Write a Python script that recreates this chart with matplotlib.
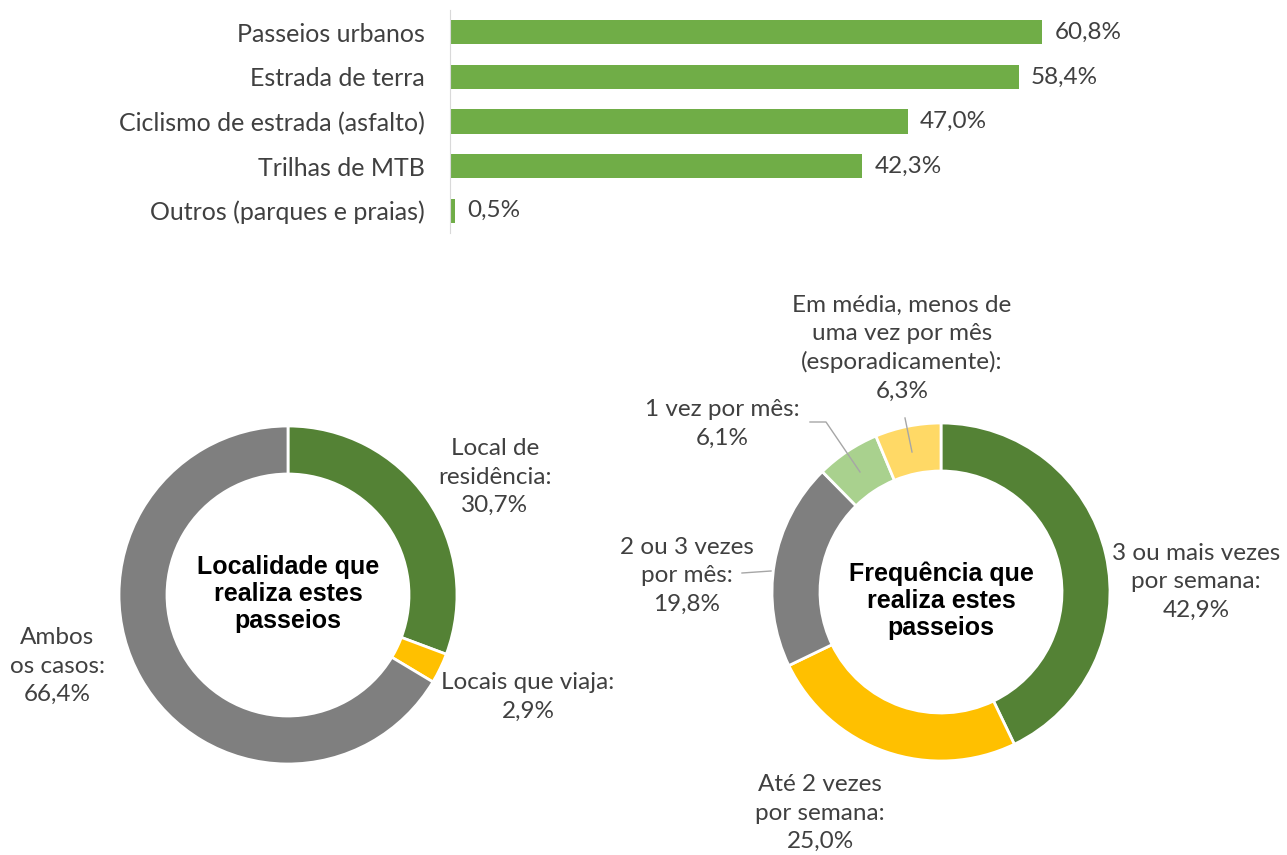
import matplotlib
matplotlib.use('Agg')
import matplotlib.pyplot as plt

W, H = 1287, 855

# ---- data ----
bar_cats = ['Passeios urbanos', 'Estrada de terra', 'Ciclismo de estrada (asfalto)',
            'Trilhas de MTB', 'Outros (parques e praias)']
bar_vals = [60.8, 58.4, 47.0, 42.3, 0.5]

loc_labels = ['Local de\nresidência', 'Locais que viaja', 'Ambos\nos casos']
loc_vals = [30.7, 2.9, 66.4]

freq_labels = ['3 ou mais vezes\npor semana', 'Até 2 vezes\npor semana', '2 ou 3 vezes\npor mês',
               '1 vez por mês', 'Em média, menos de\numa vez por mês\n(esporadicamente)']
freq_vals = [42.9, 25.0, 19.8, 6.1, 6.3]

loc_title = 'Localidade que\nrealiza estes\npasseios'
freq_title = 'Frequência que\nrealiza estes\npasseios'

BAR_GREEN = '#70AD47'
GREEN = '#548235'
YELLOW = '#FFC000'
GRAY = '#7F7F7F'
LGREEN = '#A9D18E'
LYELLOW = '#FFD966'
TXT = '#404040'
FONT = 'Lato'
FS = 17.5


def pct(v):
    return f'{v:.1f}%'.replace('.', ',')


fig = plt.figure(figsize=(12.87, 8.55), dpi=100)

# ---- bar chart ----
axb = fig.add_axes([450 / W, 1 - 233 / H, 740 / W, 223 / H])
y = list(range(len(bar_cats)))
axb.barh(y, bar_vals, height=0.54, color=BAR_GREEN)
axb.set_xlim(0, 76)
axb.set_ylim(len(bar_cats) - 0.5, -0.5)
axb.set_yticks(y)
axb.set_yticklabels(bar_cats, fontsize=18, family=FONT, color=TXT)
axb.tick_params(axis='y', length=0, pad=18)
axb.set_xticks([])
for s in ['top', 'right', 'bottom']:
    axb.spines[s].set_visible(False)
axb.spines['left'].set_color('#D9D9D9')
for yi, v in zip(y, bar_vals):
    axb.annotate(pct(v), (v, yi), xytext=(9, 0), textcoords='offset points',
                 va='center', ha='left', fontsize=FS, family=FONT, color=TXT)

# ---- donuts on a full-figure pixel axes ----
ax = fig.add_axes([0, 0, 1, 1])
ax.set_zorder(-1)

def P(xp, yp):
    return (xp, H - yp)

R = 169
RW = 48
ax.pie(loc_vals, colors=[GREEN, YELLOW, GRAY], startangle=90, counterclock=False,
       center=P(288, 595), radius=R,
       wedgeprops=dict(width=RW, edgecolor='white', linewidth=2))
ax.pie(freq_vals, colors=[GREEN, YELLOW, GRAY, LGREEN, LYELLOW], startangle=90, counterclock=False,
       center=P(941, 592), radius=R,
       wedgeprops=dict(width=RW, edgecolor='white', linewidth=2))
ax.set_xlim(0, W)
ax.set_ylim(0, H)
ax.set_aspect('auto')
ax.axis('off')

lab_kw = dict(ha='center', va='center', fontsize=FS, family=FONT, color=TXT, linespacing=1.42)

# left donut labels
loc_pos = [(495, 477), (528, 697), (57, 666)]
for lab, v, (xp, yp) in zip(loc_labels, loc_vals, loc_pos):
    ax.text(*P(xp, yp), f'{lab}:\n{pct(v)}', **lab_kw)

# right donut labels
freq_pos = [(1196, 582), (820, 813), (687, 576), (722, 424), (902, 348)]
for lab, v, (xp, yp) in zip(freq_labels, freq_vals, freq_pos):
    ax.text(*P(xp, yp), f'{lab}:\n{pct(v)}', **lab_kw)

# leader lines
LC = '#A6A6A6'
ax.plot(*zip(P(742, 573), P(771, 571)), color=LC, lw=1)
ax.plot(*zip(P(810, 422), P(826, 422), P(860, 472)), color=LC, lw=1)
ax.plot(*zip(P(905, 418), P(912, 452)), color=LC, lw=1)

# center titles
title_kw = dict(ha='center', va='center', fontsize=18, family='Liberation Sans',
                fontweight='bold', color='black', linespacing=1.15)
ax.text(*P(288, 594), loc_title, **title_kw)
ax.text(*P(941, 601), freq_title, **title_kw)

fig.savefig('out.png', dpi=100, facecolor='white')
